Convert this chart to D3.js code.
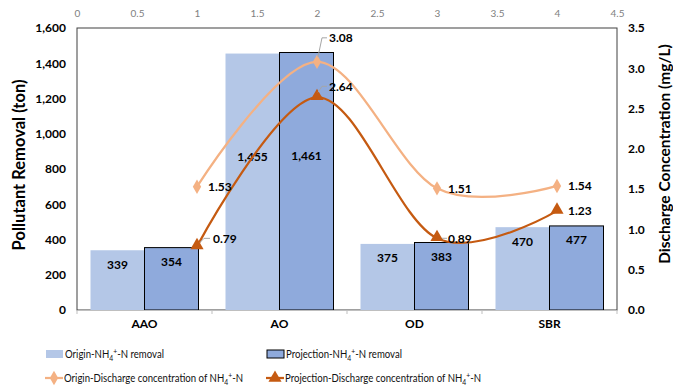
<!DOCTYPE html>
<html><head><meta charset="utf-8">
<script src="https://cdn.jsdelivr.net/npm/d3@7"></script>
<style>
body{margin:0;background:#fff;}
text{font-family:Lato,"Open Sans",sans-serif;}
</style></head>
<body><svg id="c" width="673" height="388"></svg>
<script>
const categories = ["AAO","AO","OD","SBR"];
const originRemoval = [339,1455,375,470];
const projectionRemoval = [354,1461,383,477];
const originDischarge = [1.53,3.08,1.51,1.54];
const projectionDischarge = [0.79,2.64,0.89,1.23];
const leftTicks = [0,200,400,600,800,1000,1200,1400,1600];
const rightTicks = [0,0.5,1,1.5,2,2.5,3,3.5];
const topTicks = [0,0.5,1,1.5,2,2.5,3,3.5,4,4.5];

const svg = d3.select("#c");
const L=77, R=617, T=28, B=310;
const cOB="#B4C7E7", cPB="#8FAADC", cOL="#F4B183", cPL="#C55A11";

const x = d3.scaleBand().domain(categories).range([L,R]).paddingInner(0).paddingOuter(0);
const xs = d3.scaleBand().domain(["o","p"]).range([0,x.bandwidth()]).paddingInner(0).paddingOuter(0.25);
const xTop = d3.scaleLinear().domain([0,4.5]).range([L,R]);
const yL = d3.scaleLinear().domain([0,1600]).range([B,T]);
const yR = d3.scaleLinear().domain([0,3.5]).range([B,T]);

// plot border
svg.append("rect").attr("x",L).attr("y",T).attr("width",R-L).attr("height",B-T)
  .attr("fill","none").attr("stroke","#404040").attr("stroke-width",1);

// top axis
const gTop = svg.append("g").attr("transform",`translate(0,${T-8})`)
  .call(d3.axisTop(xTop).tickValues(topTicks).tickSize(0).tickFormat(d=>String(d)));
gTop.select(".domain").remove();
gTop.selectAll("text").attr("fill","#808080").style("font-size","10px").attr("font-family","Lato,sans-serif");

// left axis
const gL = svg.append("g").attr("transform",`translate(${L-8},0)`)
  .call(d3.axisLeft(yL).tickValues(leftTicks).tickSize(0).tickFormat(d3.format(",")));
gL.select(".domain").remove();
gL.selectAll("text").attr("fill","#000").style("font-size","12px").style("font-weight","bold").attr("font-family","Lato,sans-serif");

// right axis
const gR = svg.append("g").attr("transform",`translate(${R+8},0)`)
  .call(d3.axisRight(yR).tickValues(rightTicks).tickSize(0).tickFormat(d3.format(".1f")));
gR.select(".domain").remove();
gR.selectAll("text").attr("fill","#000").style("font-size","12px").style("font-weight","bold").attr("font-family","Lato,sans-serif");

// bars
const bars = svg.append("g");
categories.forEach((c,i)=>{
  bars.append("rect").attr("x",x(c)+xs("o")).attr("y",yL(originRemoval[i]))
    .attr("width",xs.bandwidth()).attr("height",B-yL(originRemoval[i])).attr("fill",cOB);
  bars.append("rect").attr("x",x(c)+xs("p")).attr("y",yL(projectionRemoval[i]))
    .attr("width",xs.bandwidth()).attr("height",B-yL(projectionRemoval[i])).attr("fill",cPB)
    .attr("stroke","#000").attr("stroke-width",1);
});

// bottom axis
const gB = svg.append("g").attr("transform",`translate(0,${B})`)
  .call(d3.axisBottom(x).tickSize(0));
gB.select(".domain").attr("stroke","#BFBFBF").attr("stroke-width",1);
gB.selectAll("text").attr("fill","#000").style("font-size","12px").style("font-weight","bold")
  .attr("dy","1.25em").attr("font-family","Lato,sans-serif");
const bnd = categories.map(c=>x(c)).concat([R]);
gB.selectAll(".sep").data(bnd).enter().append("line")
  .attr("x1",d=>d).attr("x2",d=>d).attr("y1",0).attr("y2",4).attr("stroke","#BFBFBF");

// bar labels
const fmt = d3.format(",");
function barLabelY(v){ return v>1000 ? yL(v*0.6) : yL(v)+14; }
categories.forEach((c,i)=>{
  [[originRemoval,"o"],[projectionRemoval,"p"]].forEach(([arr,k])=>{
    svg.append("text").attr("x",x(c)+xs(k)+xs.bandwidth()/2).attr("y",barLabelY(arr[i]))
      .attr("text-anchor","middle").attr("dominant-baseline","central")
      .style("font-size","12px").style("font-weight","bold").text(fmt(arr[i]));
  });
});

// lines
const line = d3.line().x((d,i)=>xTop(i+1)).y(d=>yR(d)).curve(d3.curveCardinal.tension(0));
svg.append("path").datum(originDischarge).attr("d",line).attr("fill","none").attr("stroke",cOL).attr("stroke-width",2.25);
svg.append("path").datum(projectionDischarge).attr("d",line).attr("fill","none").attr("stroke",cPL).attr("stroke-width",2.25);

const diamond = d3.symbol().type(d3.symbolDiamond).size(60);
const tri = d3.symbol().type(d3.symbolTriangle).size(75);
originDischarge.forEach((v,i)=>{
  svg.append("path").attr("d",diamond).attr("transform",`translate(${xTop(i+1)},${yR(v)})`).attr("fill",cOL);
});
projectionDischarge.forEach((v,i)=>{
  svg.append("path").attr("d",tri).attr("transform",`translate(${xTop(i+1)},${yR(v)-1})`).attr("fill",cPL);
});

// line labels
function lineLabel(v,i,kind){
  const mx=xTop(i+1), my=yR(v);
  let tx=mx+11, ty=my, leader=null;
  if(i===1){
    ty = kind==="o" ? my-24 : my-11;
    tx = mx+12;
    leader = [[mx+1,my-5],[mx+5,ty],[mx+10,ty]];
  } else if(kind==="p" && i===0){
    ty = my-8; tx = mx+16;
    leader=[[mx+3,my-4],[mx+7,ty],[mx+13,ty]];
  } else if(kind==="p" && i===2){
    leader=[[mx+5,my],[mx+10,my]];
  }
  if(leader) svg.append("path").attr("d",d3.line()(leader)).attr("fill","none").attr("stroke","#A6A6A6").attr("stroke-width",1);
  svg.append("text").attr("x",tx).attr("y",ty).attr("dominant-baseline","central")
    .style("font-size","12px").style("font-weight","bold").text(d3.format(".2f")(v));
}
originDischarge.forEach((v,i)=>lineLabel(v,i,"o"));
projectionDischarge.forEach((v,i)=>lineLabel(v,i,"p"));

// axis titles
svg.append("text").attr("transform",`translate(19,165) rotate(-90)`).attr("text-anchor","middle")
  .attr("dominant-baseline","central").style("font-size","16.5px").style("font-weight","bold").text("Pollutant Removal (ton)");
svg.append("text").attr("transform",`translate(664,154) rotate(-90)`).attr("text-anchor","middle")
  .attr("dominant-baseline","central").style("font-size","15.5px").style("font-weight","bold").text("Discharge Concentration (mg/L)");

// legend
function nh4(t, pre, post){
  t.append("tspan").text(pre+"NH");
  t.append("tspan").attr("dy","3").style("font-size","8.5px").text("4");
  t.append("tspan").attr("dy","-7").style("font-size","8.5px").text("+");
  t.append("tspan").attr("dy","4").text(post);
}
const lg = svg.append("g");
const legendItems = [
  {x:46,y:354,type:"bar",fill:cOB,stroke:null,pre:"Origin-",post:"-N removal"},
  {x:267,y:354,type:"bar",fill:cPB,stroke:"#000",pre:"Projection-",post:"-N removal"},
  {x:45,y:378,type:"line",col:cOL,sym:diamond,pre:"Origin-Discharge concentration of ",post:"-N"},
  {x:266,y:378,type:"line",col:cPL,sym:tri,pre:"Projection-Discharge concentration of ",post:"-N"}
];
legendItems.forEach(it=>{
  if(it.type==="bar"){
    lg.append("rect").attr("x",it.x).attr("y",it.y-4).attr("width",17).attr("height",8)
      .attr("fill",it.fill).attr("stroke",it.stroke||"none");
  } else {
    lg.append("line").attr("x1",it.x).attr("x2",it.x+18).attr("y1",it.y).attr("y2",it.y).attr("stroke",it.col).attr("stroke-width",2.25);
    lg.append("path").attr("d",it.sym).attr("transform",`translate(${it.x+9},${it.y})`).attr("fill",it.col);
  }
  const t = lg.append("text").attr("transform",`translate(${it.x+19},${it.y+4}) scale(0.8,1)`)
    .style("font-size","12px").attr("fill","#111");
  nh4(t,it.pre,it.post);
});
</script></body></html>
